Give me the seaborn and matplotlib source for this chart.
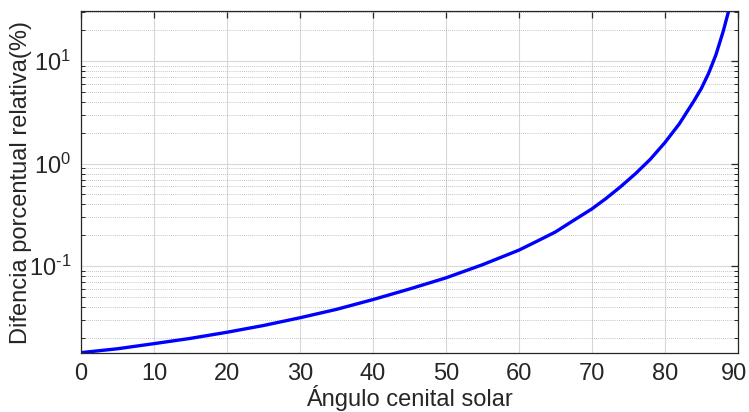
import numpy as np
import pandas as pd
import matplotlib
matplotlib.use("Agg")
import matplotlib.pyplot as plt
import matplotlib.ticker as mticker
import matplotlib.transforms as mtransforms
import seaborn as sns

# Data
angle = [0, 5, 10, 15, 20, 25, 30, 35, 40, 45, 50, 55, 60, 62.5, 65, 67.5, 70,
         72, 74, 76, 78, 80, 82, 84, 85, 86, 87, 88, 89]
diff_pct = [0.0143, 0.0156, 0.0175, 0.0197, 0.0226, 0.0263, 0.0313, 0.0378,
            0.0471, 0.0597, 0.0767, 0.103, 0.143, 0.175, 0.215, 0.279, 0.361,
            0.46, 0.60, 0.80, 1.10, 1.6, 2.45, 4.1, 5.4, 7.6, 11.5, 19.5, 36]
x_ticks = [0, 10, 20, 30, 40, 50, 60, 70, 80, 90]
x_label = "Ángulo cenital solar"
y_label = "Difencia porcentual relativa(%)"

df = pd.DataFrame({"angle": angle, "diff": diff_pct})

sns.set_style("white")
plt.rcParams["font.family"] = ["Liberation Sans", "DejaVu Sans"]
plt.rcParams["mathtext.fontset"] = "custom"
plt.rcParams["mathtext.rm"] = "Liberation Sans"
plt.rcParams["mathtext.it"] = "Liberation Sans:italic"
plt.rcParams["mathtext.bf"] = "Liberation Sans:bold"

fig = plt.figure(figsize=(7.49, 4.12), dpi=100)
ax = fig.add_axes([0.108, 0.143, 0.877, 0.830])

sns.lineplot(data=df, x="angle", y="diff", ax=ax, color=(0, 0, 1), linewidth=2.4)

ax.set_yscale("log")
ax.set_xlim(0, 90)
ax.set_ylim(0.01416, 30.8)
ax.set_xticks(x_ticks)
ax.yaxis.set_major_locator(mticker.LogLocator(base=10, numticks=10))
ax.yaxis.set_minor_locator(mticker.LogLocator(base=10, subs=np.arange(2, 10), numticks=20))


def log_fmt(v, pos):
    e = int(round(np.log10(v)))
    if e < 0:
        return r"$10^{\text{-}%d}$" % (-e)
    return r"$10^{%d}$" % e


ax.yaxis.set_major_formatter(mticker.FuncFormatter(log_fmt))
ax.yaxis.set_minor_formatter(mticker.NullFormatter())

ax.grid(True, which="major", axis="both", color="#d8d8d8", linewidth=0.8, linestyle="-")
ax.grid(True, which="minor", axis="y", color="#b0b0b0", linewidth=0.6, linestyle=(0, (1, 1.5)))
ax.set_axisbelow(True)

for s in ax.spines.values():
    s.set_color("#262626")
    s.set_linewidth(0.9)
    s.set_visible(True)

ax.tick_params(axis="both", which="major", direction="in", length=5, width=0.9,
               top=True, right=True, labelsize=17, colors="#262626", pad=7)
ax.tick_params(axis="y", which="minor", direction="in", length=3, width=0.7,
               left=True, right=True, colors="#262626")
ax.tick_params(axis="x", which="minor", bottom=False, top=False)
for lab in ax.get_xticklabels() + ax.get_yticklabels():
    lab.set_color("#262626")

# nudge the last x tick label slightly inward so it stays inside the canvas
last = ax.get_xticklabels()[-1]
last.set_transform(last.get_transform() +
                   mtransforms.ScaledTranslation(-4 / 100, 0, fig.dpi_scale_trans))

ax.set_xlabel(x_label, fontsize=17, color="#262626", labelpad=0)
ax.set_ylabel(y_label, fontsize=17, color="#262626", labelpad=-2)

fig.savefig("out.png", dpi=100)
